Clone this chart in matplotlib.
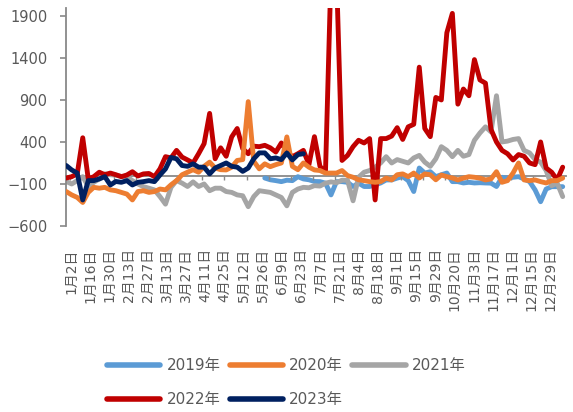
import numpy as np
import matplotlib
matplotlib.use("Agg")
import matplotlib.pyplot as plt

plt.rcParams['font.family'] = ['DejaVu Sans', 'Noto Sans CJK SC']
plt.rcParams['axes.unicode_minus'] = True

# Date labels on the category axis (every 10 trading days)
date_labels = ["1月2日", "1月16日", "1月30日", "2月13日", "2月27日", "3月13日",
               "3月27日", "4月11日", "4月25日", "5月12日", "5月26日", "6月9日",
               "6月23日", "7月7日", "7月21日", "8月4日", "8月18日", "9月1日",
               "9月15日", "9月29日", "10月20日", "11月3日", "11月17日", "12月1日",
               "12月15日", "12月29日"]

# Yearly series, one value every ~2.9 trading days
y2019_start = 36
y2019 = [-29, -50, -60, -72, -55, -60, -13, -40, -50, -70, -72, -90, -230, -72, -72,
         -80, -130, -90, -130, -130, -110, -88, -52, -52, -30, -13, -60, -190, 90, 30,
         46, -13, 10, 30, -72, -72, -88, -80, -88, -85, -88, -90, -130, -20, -30, -20,
         -13, -40, -72, -171, -311, -160, -132, -132, -132]

y2020 = [-190, -230, -260, -320, -200, -140, -150, -140, -170, -180, -200, -220, -290,
         -190, -180, -200, -190, -160, -170, -110, -60, 10, 40, 70, 40, 110, 160, 90, 70,
         67, 100, 180, 190, 880, 170, 80, 140, 106, 130, 150, 460, 110, 70, 150, 100, 67,
         60, 30, 30, 30, 60, 0, -20, -50, -60, -72, -80, -72, -30, -52, 10, 20, -13, 30,
         -29, 20, 10, -50, 7, -13, -29, -52, -30, -13, -20, -30, -52, -40, 46, -80, -60,
         30, 150, -52, -60, -52, -72, -88, -60, -60, -30]

y2021 = [-70, -100, -60, -13, -130, -80, -40, 20, 10, 5, -10, -13, -60, -100, -132,
         -150, -171, -250, -340, -140, -60, -90, -130, -75, -130, -100, -180, -150, -150,
         -190, -200, -230, -240, -370, -250, -180, -190, -200, -230, -260, -360, -200,
         -160, -140, -145, -120, -125, -90, -75, -85, -55, -55, -300, -20, 40, 60, 100,
         150, 225, 150, 190, 170, 150, 210, 240, 160, 110, 200, 344, 300, 225, 300, 230,
         250, 420, 507, 580, 520, 950, 400, 410, 430, 440, 300, 270, 190, 160, 60, -120,
         -90, -250]

y2022 = [-29, -13, 20, 450, -40, -13, 40, 10, 30, 10, -13, 7, 46, -5, 20, 25, -13, 80,
         225, 210, 300, 220, 186, 150, 260, 380, 740, 200, 330, 230, 460, 560, 320, 260,
         350, 344, 360, 330, 280, 388, 285, 225, 260, 300, 130, 463, 110, 40, 2400, 2400,
         180, 240, 344, 420, 388, 440, -290, 440, 440, 470, 570, 430, 580, 610, 1290, 560,
         463, 930, 900, 1700, 1930, 850, 1030, 950, 1380, 1138, 1100, 550, 400, 300, 260,
         186, 250, 230, 150, 130, 400, 90, 40, -50, 100]

y2023 = [120, 67, 30, -290, -60, -60, -40, -13, -112, -70, -80, -60, -112, -80, -72,
         -60, -72, 7, 80, 215, 200, 120, 110, 140, 100, 100, 20, 90, 120, 150, 110, 100,
         50, 90, 200, 270, 270, 200, 210, 190, 269, 186, 250, 260]

# Trading days covered by one sample step, and label spacing in trading days
days_per_point = 2.875
label_every = 10
first_label_day = 2.5

series = [
    ("2019年", y2019, y2019_start, "#5B9BD5", 1),
    ("2020年", y2020, 0, "#ED7D31", 4),
    ("2021年", y2021, 0, "#A5A5A5", 2),
    ("2022年", y2022, 0, "#C00000", 3),
    ("2023年", y2023, 0, "#002060", 5),
]

fig = plt.figure(figsize=(5.73, 4.12), dpi=100)
ax = fig.add_axes([66 / 573, 1 - 226 / 412, 500 / 573, (226 - 7.5) / 412])

handles = {}
for name, vals, start, color, z in series:
    x = (np.arange(len(vals)) + start) * days_per_point
    ln, = ax.plot(x, vals, color=color, lw=3.5, zorder=z,
                  solid_joinstyle='round', solid_capstyle='round', label=name)
    handles[name] = ln

axis_gray = "#898989"
text_gray = "#595959"

ax.set_ylim(-600, 2000)
ax.set_yticks([-600, -100, 400, 900, 1400, 1900])
ax.set_xlim(-0.1, 90.6 * days_per_point)

for s in ["top", "right"]:
    ax.spines[s].set_visible(False)
ax.spines["left"].set_color(axis_gray)
ax.spines["left"].set_linewidth(1.3)
ax.spines["bottom"].set_position(("data", 0))
ax.spines["bottom"].set_color(axis_gray)
ax.spines["bottom"].set_linewidth(1.3)
ax.spines["bottom"].set_zorder(0.5)

ax.tick_params(axis="y", direction="out", length=4, width=1.2, color=axis_gray,
               labelcolor=text_gray, labelsize=10.5, pad=9.5)
tick_days = np.arange(2.0, 90.6 * days_per_point, 11.5)
ax.set_xticks(tick_days)
ax.tick_params(axis="x", direction="out", length=3, width=1.0, color=axis_gray,
               labelbottom=False)

label_days = first_label_day + label_every * np.arange(len(date_labels))
sec = ax.secondary_xaxis("bottom")
sec.set_xticks(label_days)
sec.set_xticklabels(date_labels, rotation=90, va="top", ha="center")
sec.tick_params(axis="x", length=0, pad=16, labelsize=10, labelcolor=text_gray)
sec.spines["bottom"].set_visible(False)

order = ["2019年", "2022年", "2020年", "2023年", "2021年"]
leg = fig.legend([handles[n] for n in order], order, ncol=3, frameon=False,
                 loc="upper left", bbox_to_anchor=(107 / 573, 1 - 358 / 412),
                 borderpad=0, borderaxespad=0, fontsize=11,
                 handlelength=3.5, handletextpad=0.4, columnspacing=0.6,
                 labelspacing=1.25)
for t in leg.get_texts():
    t.set_color(text_gray)
for h in leg.legend_handles:
    h.set_linewidth(4)
    h.set_solid_capstyle('round')

fig.savefig("out.png", dpi=100)
